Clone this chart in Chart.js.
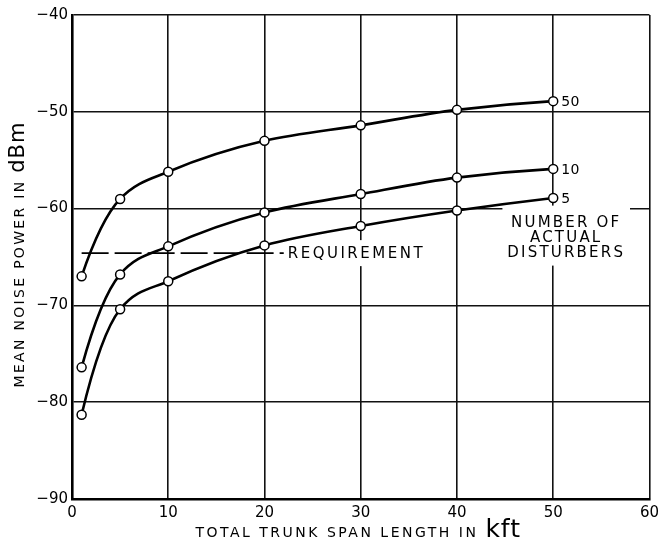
<!DOCTYPE html>
<html>
<head>
<meta charset="utf-8">
<script src="https://cdn.jsdelivr.net/npm/chart.js@4/dist/chart.umd.min.js"></script>
<style>
  html, body { margin: 0; padding: 0; background: #fff; }
  #wrap { width: 664px; height: 541px; }
</style>
</head>
<body>
<div id="wrap"><canvas id="myChart"></canvas></div>
<script>
// span lengths (kft) where points were plotted
const spanKft = [1, 5, 10, 20, 30, 40, 50];

// mean noise power (dBm) for each number of actual disturbers
const noise50 = [-67.0, -59.0, -56.2, -53.0, -51.4, -49.8, -48.9];
const noise10 = [-76.4, -66.8, -63.9, -60.4, -58.5, -56.8, -55.9];
const noise5 = [-81.3, -70.4, -67.5, -63.8, -61.8, -60.2, -58.9];
const disturberLabels = ["50", "10", "5"];

// requirement line
const requirementSpan = [1, 22];
const requirementLevel = -64.6;

const xTicks = [0, 10, 20, 30, 40, 50, 60];
const yTicks = [-90, -80, -70, -60, -50, -40];

const FONT = "'DejaVu Sans', sans-serif";

function pts(xs, ys) {
  return xs.map((x, i) => ({ x: x, y: ys[i] }));
}

function curve(ys) {
  return {
    data: pts(spanKft, ys),
    showLine: true,
    borderColor: '#000',
    borderWidth: 2.6,
    tension: 0.4,
    pointRadius: 4.5,
    pointBorderWidth: 1.5,
    pointBorderColor: '#000',
    pointBackgroundColor: '#fff'
  };
}

// tangent slope (dy/dx) at each point: geometric mean of the neighbouring
// chords, ends extrapolated, limited so the curve never overshoots
function slopes(xs, ys) {
  const n = xs.length;
  const s = [];
  for (let i = 0; i < n - 1; i++) s.push((ys[i + 1] - ys[i]) / (xs[i + 1] - xs[i]));
  const m = new Array(n).fill(0);
  for (let i = 1; i < n - 1; i++) {
    m[i] = s[i - 1] * s[i] > 0 ? Math.sign(s[i]) * Math.sqrt(s[i - 1] * s[i]) : 0;
  }
  const clampEnd = (v, c) => (c > 0 ? Math.min(Math.max(v, 0), 3 * c) : Math.max(Math.min(v, 0), 3 * c));
  m[0] = clampEnd(2 * s[0] - m[1], s[0]);
  m[n - 1] = clampEnd(2 * s[n - 2] - m[n - 2], s[n - 2]);
  for (let i = 0; i < n - 1; i++) {
    if (s[i] === 0) continue;
    const a = m[i] / s[i], b = m[i + 1] / s[i];
    const r = a * a + b * b;
    if (r > 9) {
      const t = 3 / Math.sqrt(r);
      m[i] = t * a * s[i];
      m[i + 1] = t * b * s[i];
    }
  }
  return m;
}

// smooth the curves: set bezier control points from the slopes above
const smoothPlugin = {
  id: 'smooth',
  beforeDatasetDraw(chart, args) {
    const series = [noise50, noise10, noise5];
    if (args.index >= series.length) return;
    const meta = args.meta;
    meta.dataset.updateControlPoints(chart.chartArea, 'x');
    const xs = chart.scales.x, ys = chart.scales.y;
    const ratio = (ys.getPixelForValue(1) - ys.getPixelForValue(0)) /
                  (xs.getPixelForValue(1) - xs.getPixelForValue(0));
    const k = slopes(spanKft, series[args.index]).map(d => d * ratio);
    const p = meta.data;
    for (let i = 0; i < p.length - 1; i++) {
      const h = (p[i + 1].x - p[i].x) / 3;
      p[i].cp2x = p[i].x + h;
      p[i].cp2y = p[i].y + k[i] * h;
      p[i + 1].cp1x = p[i + 1].x - h;
      p[i + 1].cp1y = p[i + 1].y - k[i + 1] * h;
    }
    meta.dataset._path = undefined;
  }
};

function spaced(ctx, txt, x, y, sp) {
  ctx.letterSpacing = sp + 'px';
  ctx.fillText(txt, x, y);
  ctx.letterSpacing = '0px';
}
function widthOf(ctx, txt, sp) {
  ctx.letterSpacing = sp + 'px';
  const w = ctx.measureText(txt).width - sp;
  ctx.letterSpacing = '0px';
  return w;
}

const labelsPlugin = {
  id: 'labels',
  beforeDatasetsDraw(chart) {
    // white patches behind the text labels (they break the grid lines)
    const ctx = chart.ctx;
    const xs = chart.scales.x, ys = chart.scales.y;
    ctx.save();
    ctx.fillStyle = '#fff';
    ctx.font = '15px ' + FONT;
    const rx = xs.getPixelForValue(requirementSpan[1]) + 2;
    const ry = ys.getPixelForValue(requirementLevel);
    const rw = widthOf(ctx, 'REQUIREMENT', 2.5);
    ctx.fillRect(rx, ry - 13, rw + 8, 26);
    const cx = xs.getPixelForValue(spanKft[spanKft.length - 1]) + 13;
    const top = ys.getPixelForValue(-60) - 3;
    const dw = widthOf(ctx, 'DISTURBERS', 2.2);
    ctx.fillRect(cx - dw / 2 - 6, top, dw + 12, 60);
    ctx.restore();
  },
  afterDraw(chart) {
    const ctx = chart.ctx;
    const xs = chart.scales.x, ys = chart.scales.y;
    const area = chart.chartArea;
    ctx.save();
    ctx.fillStyle = '#000';

    // series labels at the end of each curve
    ctx.font = '14px ' + FONT;
    ctx.textBaseline = 'middle';
    ctx.textAlign = 'left';
    const last = spanKft.length - 1;
    [noise50, noise10, noise5].forEach((s, i) => {
      spaced(ctx, disturberLabels[i], xs.getPixelForValue(spanKft[last]) + 8,
        ys.getPixelForValue(s[last]) + 1, 0.5);
    });

    // requirement label
    ctx.font = '15px ' + FONT;
    spaced(ctx, 'REQUIREMENT', xs.getPixelForValue(requirementSpan[1]) + 4,
      ys.getPixelForValue(requirementLevel) + 1, 2.5);

    // number of actual disturbers
    ctx.textAlign = 'center';
    ctx.textBaseline = 'alphabetic';
    const cx = xs.getPixelForValue(spanKft[last]) + 13;
    const base = ys.getPixelForValue(-60) + 18;
    ['NUMBER OF', 'ACTUAL', 'DISTURBERS'].forEach((t, i) => {
      spaced(ctx, t, cx, base + i * 15, 2.2);
    });

    // x axis title
    ctx.textAlign = 'left';
    const t1 = 'TOTAL TRUNK SPAN LENGTH IN ';
    ctx.font = '14px ' + FONT;
    const w1 = widthOf(ctx, t1, 2.5) + 2.5;
    ctx.font = '25px ' + FONT;
    const w2 = widthOf(ctx, 'kft', 1);
    const xc = (area.left + area.right) / 2 - 3;
    const xStart = xc - (w1 + w2) / 2;
    ctx.font = '14px ' + FONT;
    spaced(ctx, t1, xStart, 537, 2.5);
    ctx.font = '25px ' + FONT;
    spaced(ctx, 'kft', xStart + w1, 537, 1);

    // y axis title
    ctx.translate(24, 255);
    ctx.rotate(-Math.PI / 2);
    const t3 = 'MEAN NOISE POWER IN ';
    ctx.font = '14px ' + FONT;
    const w3 = widthOf(ctx, t3, 2.3) + 2.3;
    ctx.font = '21px ' + FONT;
    const w4 = widthOf(ctx, 'dBm', 1);
    const s0 = -(w3 + w4) / 2;
    ctx.font = '14px ' + FONT;
    spaced(ctx, t3, s0, 0, 2.3);
    ctx.font = '21px ' + FONT;
    spaced(ctx, 'dBm', s0 + w3, 0, 1);
    ctx.restore();
  }
};

const ctx = document.getElementById('myChart').getContext('2d');

const chart = new Chart(ctx, {
  type: 'scatter',
  data: {
    datasets: [
      curve(noise50),
      curve(noise10),
      curve(noise5),
      {
        data: requirementSpan.map(x => ({ x: x, y: requirementLevel })),
        showLine: true,
        borderColor: '#000',
        borderWidth: 1.6,
        borderDash: [27, 6],
        pointRadius: 0
      }
    ]
  },
  options: {
    responsive: true,
    maintainAspectRatio: false,
    animation: false,
    layout: { padding: { top: 15, right: 12, left: 0, bottom: 0 } },
    plugins: {
      legend: { display: false },
      tooltip: { enabled: false }
    },
    scales: {
      x: {
        type: 'linear',
        min: 0,
        max: 60,
        afterBuildTicks: s => { s.ticks = xTicks.map(v => ({ value: v })); },
        ticks: {
          color: '#000',
          font: { family: FONT, size: 15 },
          padding: 5,
          maxRotation: 0
        },
        grid: { color: '#111', lineWidth: 1.6, drawTicks: false },
        border: { color: '#000', width: 2.6 },
        afterFit: s => { s.height = 42; }
      },
      y: {
        type: 'linear',
        min: -90,
        max: -40,
        afterBuildTicks: s => { s.ticks = yTicks.map(v => ({ value: v })); },
        ticks: {
          color: '#000',
          font: { family: FONT, size: 15 },
          padding: 4,
          callback: v => (v < 0 ? '\u2212' + Math.abs(v) : String(v))
        },
        grid: { color: '#111', lineWidth: 1.6, drawTicks: false },
        border: { color: '#000', width: 2.6 },
        afterFit: s => { s.width = 72; }
      }
    }
  },
  plugins: [smoothPlugin, labelsPlugin]
});
</script>
</body>
</html>
